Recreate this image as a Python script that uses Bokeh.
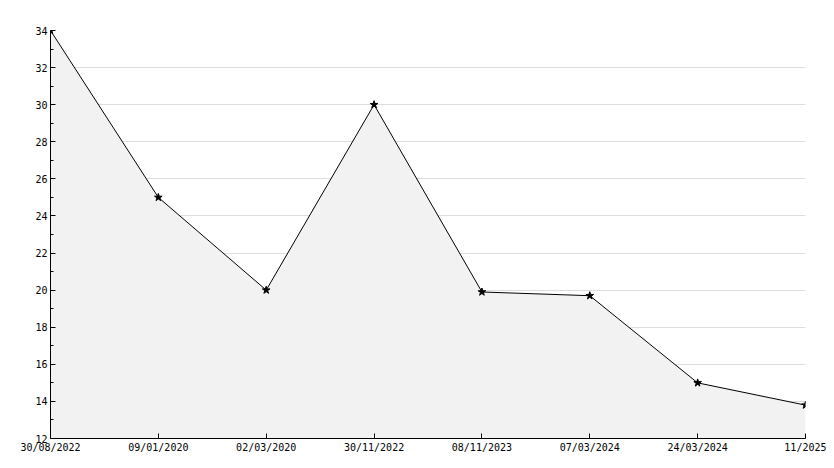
from bokeh.plotting import figure
from bokeh.models import FixedTicker, SingleIntervalTicker, Range1d, ColumnDataSource
from bokeh.embed import file_html
from bokeh.resources import INLINE

labels = ["30/08/2022", "09/01/2020", "02/03/2020", "30/11/2022",
          "08/11/2023", "07/03/2024", "24/03/2024", "11/2025"]
values = [34, 25, 20, 30, 19.9, 19.7, 15, 13.8]
y_min, y_max = 12, 34

xs = list(range(len(labels)))
src = ColumnDataSource(dict(x=xs, y=values, base=[y_min] * len(xs)))

p = figure(width=826, height=460, frame_width=755, frame_height=408,
           output_backend="svg", toolbar_location=None,
           x_range=Range1d(0, len(labels) - 1), y_range=Range1d(y_min, y_max),
           min_border_left=50, min_border_right=21, min_border_top=30, min_border_bottom=22)
p.outline_line_color = None
p.background_fill_color = "white"
p.border_fill_color = "white"

p.varea(x="x", y1="base", y2="y", source=src, fill_color="#f2f2f2")
p.line(x="x", y="y", source=src, line_color="black", line_width=1)
p.scatter(x="x", y="y", source=src, marker="star", size=8, color="black")

font = "DejaVu Sans Mono"
p.xaxis.ticker = FixedTicker(ticks=xs)
p.xaxis.major_label_overrides = {i: l for i, l in enumerate(labels)}
p.yaxis.ticker = SingleIntervalTicker(interval=2, num_minor_ticks=2)
for ax in (p.xaxis[0], p.yaxis[0]):
    ax.axis_line_color = "black"
    ax.axis_line_width = 1
    ax.major_tick_in = 5
    ax.major_tick_out = 0
    ax.minor_tick_in = 3
    ax.minor_tick_out = 0
    ax.major_tick_line_color = "black"
    ax.minor_tick_line_color = "black"
    ax.major_label_text_font = font
    ax.major_label_text_font_size = "10px"
    ax.major_label_text_color = "black"
    ax.major_label_standoff = 3
p.xaxis.minor_tick_line_color = None

p.xgrid.grid_line_color = None
p.ygrid.grid_line_color = "#dddddd"

open("out.html", "w").write(file_html(p, INLINE))
